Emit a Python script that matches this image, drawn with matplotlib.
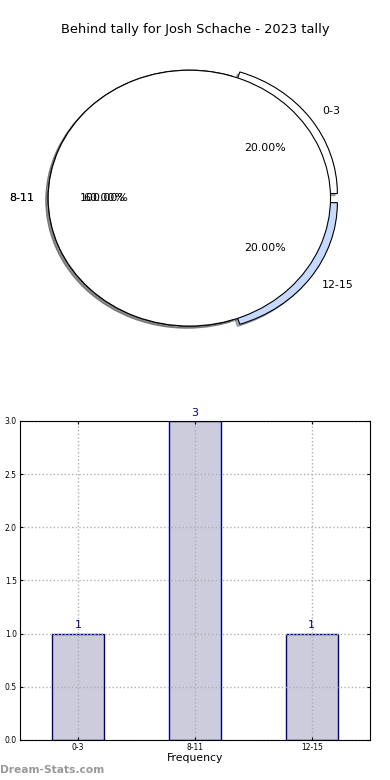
import numpy as np
import matplotlib
matplotlib.use('Agg')
import matplotlib.pyplot as plt

# tally data
categories = ['0-3', '8-11', '12-15']
counts = [1, 3, 1]
slice_colors = ['white', 'white', '#c6daff']
explode = [0.06, 0, 0.06]

fig = plt.figure(figsize=(3.9, 7.8), dpi=100)
fig.text(0.5, 1 - 30 / 780., 'Behind tally for Josh Schache - 2023 tally',
         ha='center', va='center', fontsize=9.4)

shadow = {'ox': -0.012, 'oy': -0.012, 'shade': 0.6}

# pie chart (ellipse, like the original)
ax1 = fig.add_axes([0.033, 0.541, 0.905, 0.41])
ax1.pie(counts, labels=categories, colors=slice_colors, explode=explode,
        autopct='%.2f%%', shadow=shadow, startangle=0,
        wedgeprops={'linewidth': 0.8, 'edgecolor': 'black'},
        textprops={'fontsize': 7.9})
# total slice drawn over the top
ax1.pie([sum(counts)], labels=['8-11'], colors=['white'], autopct='%.2f%%',
        shadow=shadow, startangle=0,
        wedgeprops={'linewidth': 0.8, 'edgecolor': 'black'},
        textprops={'fontsize': 7.9})
ax1.set_aspect('auto')
ax1.set_xlim(-1.25, 1.25)
ax1.set_ylim(-1.25, 1.25)

# bar chart
ax2 = fig.add_axes([0.05, 0.0513, 0.899, 0.409])
ind = np.arange(len(categories))
rects = ax2.bar(ind, counts, 0.445, color='#ccccdd', edgecolor='#000080',
                linewidth=1.0, zorder=1)
for rect in rects:
    h = rect.get_height()
    ax2.text(rect.get_x() + rect.get_width() / 2., h + 0.03, '%d' % h,
             ha='center', va='bottom', color='#000080', fontsize=7.9)
ax2.set_xlim(-0.5, 2.5)
ax2.set_ylim(0, 3)
ax2.set_xticks(ind)
ax2.set_xticklabels(categories)
ax2.set_yticks(np.arange(0, 3.01, 0.5))
ax2.tick_params(labelsize=5.5, length=2, direction='in', pad=2,
                top=True, right=True)
ax2.grid(True, linestyle=':', color='#b0b0b0', linewidth=1.0, zorder=3)
ax2.set_axisbelow(False)
for sp in ax2.spines.values():
    sp.set_zorder(5)
ax2.set_xlabel('Frequency', fontsize=7.8, labelpad=1)

fig.text(0.0, 1 - 770 / 780., 'Dream-Stats.com', ha='left', va='center',
         color='#999999', fontsize=7.7, fontweight='bold')

fig.savefig('out.png', dpi=100)
